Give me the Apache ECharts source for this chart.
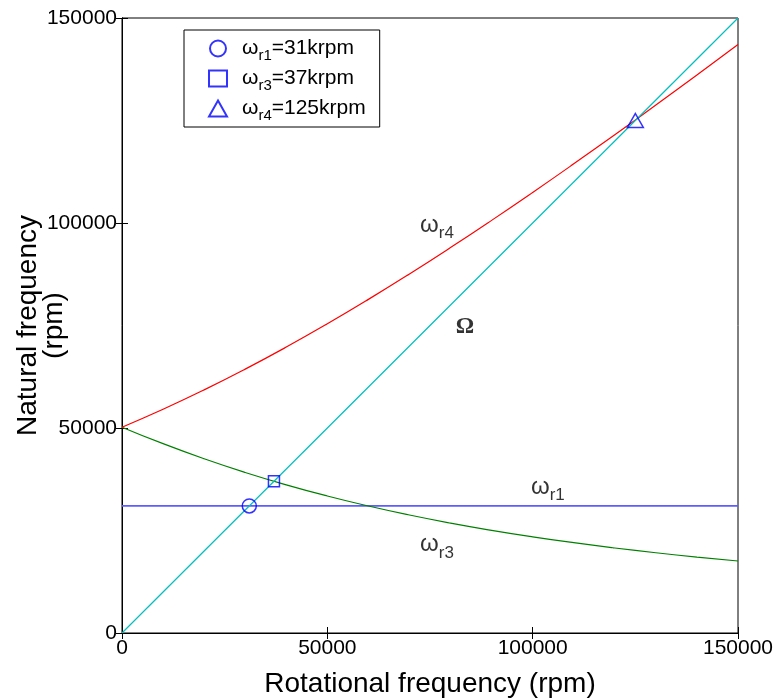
<!DOCTYPE html>
<html>
<head>
<meta charset="utf-8">
<script src="https://cdn.jsdelivr.net/npm/echarts@6/dist/echarts.min.js"></script>
<style>html,body{margin:0;padding:0;background:#fff}#c{width:778px;height:700px}</style>
</head>
<body>
<div id="c"></div>
<script>
// Rotational frequency samples (rpm)
var rotational = [0,10000,20000,30000,40000,50000,60000,70000,80000,90000,100000,110000,120000,130000,140000,150000];
// omega_r4 (forward whirl)
var omegaR4 = [50200,54575,59298,64357,69737,75416,81370,87576,94007,100640,107452,114424,121535,128770,136114,143555];
// omega_r3 (backward whirl)
var omegaR3 = [50200,46175,42498,39157,36137,33416,30970,28776,26807,25040,23452,22024,20735,19570,18514,17555];
// omega_r1 constant
var omegaR1 = 31000;
// Omega = rotational speed line
var omegaLine = [[0,0],[150000,150000]];
// Critical speed markers
var critR1 = [31000,31000];
var critR3 = [37000,37000];
var critR4 = [125000,125000];
var tickVals = [0,50000,100000,150000];
// curve annotations (data coords)
var annotations = [
  {name:'r4', at:[76700,99500]},
  {name:'Omega', at:[83500,74600]},
  {name:'r1', at:[103700,35600]},
  {name:'r3', at:[76700,21500]}
];

var font = 'Liberation Sans, Arial, sans-serif';
var chart = echarts.init(document.getElementById('c'), null, {renderer:'canvas'});

function zip(xs, ys){ return xs.map(function(x,i){return [x, ys[i]];}); }

var richW = {
  w:{fontFamily:font,fontSize:24,color:'#000'},
  s:{fontFamily:font,fontSize:17,color:'#000',padding:[16,0,0,0]},
  o:{fontFamily:'Liberation Serif, Times New Roman, serif',fontSize:23,color:'#000',fontWeight:'bold'}
};
var richL = {
  w:{fontFamily:font,fontSize:21,color:'#000'},
  s:{fontFamily:font,fontSize:15,color:'#000',padding:[14,0,0,0]},
  t:{fontFamily:font,fontSize:21,color:'#000'}
};

var axisCommon = {
  type:'value', min:0, max:150000, interval:50000,
  splitLine:{show:false},
  axisLine:{show:true,lineStyle:{color:'#000',width:1}},
  axisTick:{show:true,inside:true,length:6,lineStyle:{color:'#000'}},
};

var option = {
  animation:false,
  backgroundColor:'#fff',
  grid:{left:122,right:40,top:18,bottom:67,show:true,borderColor:'#000',borderWidth:1,containLabel:false,outerBoundsMode:'none'},
  legend:{
    show:true, orient:'vertical', left:184, top:30,
    data:['r1m','r3m','r4m'],
    itemWidth:18, itemHeight:16, itemGap:5,
    borderColor:'#000', borderWidth:1, padding:[8,14,4,24],
    backgroundColor:'#fff',
    formatter:function(n){
      var m = {r1m:'{w|ω}{s|r1}{t|=31krpm}', r3m:'{w|ω}{s|r3}{t|=37krpm}', r4m:'{w|ω}{s|r4}{t|=125krpm}'};
      return m[n];
    },
    textStyle:{rich:richL, padding:[0,0,0,10]}
  },
  xAxis:[
    Object.assign({}, axisCommon, {
      position:'bottom',
      name:'Rotational frequency (rpm)', nameLocation:'middle', nameGap:37, nameMoveOverlap:false,
      nameTextStyle:{fontFamily:font,fontSize:28,color:'#000'},
      axisLabel:{fontFamily:font,fontSize:21,color:'#000',margin:5,formatter:function(v){return String(v);}}
    }),
    Object.assign({}, axisCommon, {position:'top', axisLabel:{show:false}})
  ],
  yAxis:[
    Object.assign({}, axisCommon, {
      position:'left',
      name:'Natural frequency\n(rpm)', nameLocation:'middle', nameGap:55, nameMoveOverlap:false,
      nameTextStyle:{fontFamily:font,fontSize:28,color:'#000',lineHeight:26},
      axisLabel:{fontFamily:font,fontSize:21,color:'#000',margin:5,formatter:function(v){return String(v);}}
    }),
    Object.assign({}, axisCommon, {position:'right', axisLabel:{show:false}})
  ],
  series:[
    {type:'line', name:'r1', data:[[0,omegaR1],[150000,omegaR1]], showSymbol:false, lineStyle:{color:'#5c5cff',width:1.6}, z:2},
    {type:'line', name:'r3', data:zip(rotational, omegaR3), smooth:true, showSymbol:false, lineStyle:{color:'#008000',width:1.2}, z:2},
    {type:'line', name:'r4', data:zip(rotational, omegaR4), smooth:true, showSymbol:false, lineStyle:{color:'#ff0000',width:1.2}, z:2},
    {type:'line', name:'W', data:omegaLine, showSymbol:false, lineStyle:{color:'#00bfbf',width:1.2}, z:2},
    {type:'scatter', name:'r1m', data:[critR1], symbol:'circle', symbolSize:14,
      itemStyle:{color:'rgba(0,0,0,0)',borderColor:'#0000ff',borderWidth:1.5}, z:5},
    {type:'scatter', name:'r3m', data:[critR3], symbol:'rect', symbolSize:11,
      itemStyle:{color:'rgba(0,0,0,0)',borderColor:'#0000ff',borderWidth:1.5}, z:5},
    {type:'scatter', name:'r4m', data:[critR4], symbol:'triangle', symbolSize:[16,14],
      itemStyle:{color:'rgba(0,0,0,0)',borderColor:'#0000ff',borderWidth:1.5}, z:5},
    {type:'scatter', name:'ann', data:annotations.map(function(a){return {name:a.name, value:a.at};}),
      symbolSize:0, silent:true, z:6,
      label:{show:true, position:'inside', rich:richW,
        formatter:function(p){
          if(p.name==='Omega') return '{o|Ω}';
          return '{w|ω}{s|'+p.name+'}';
        }}
    }
  ]
};
chart.setOption(option);
</script>
</body>
</html>
